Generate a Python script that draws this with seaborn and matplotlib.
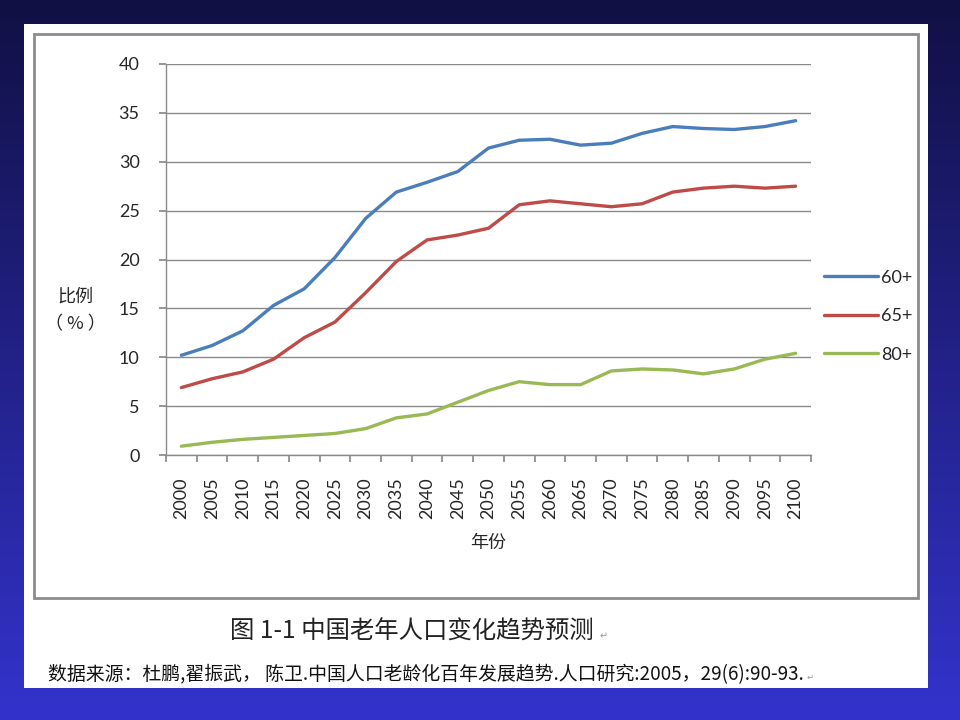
import numpy as np
import pandas as pd
import matplotlib
matplotlib.use("Agg")
import matplotlib.pyplot as plt
import matplotlib.colors as mcolors
from matplotlib.patches import Rectangle
import seaborn as sns

years = [str(y) for y in range(2000, 2101, 5)]
pct_60 = [10.2, 11.2, 12.7, 15.3, 17.0, 20.2, 24.2, 26.9, 27.9, 29.0, 31.4,
          32.2, 32.3, 31.7, 31.9, 32.9, 33.6, 33.4, 33.3, 33.6, 34.2]
pct_65 = [6.9, 7.8, 8.5, 9.8, 12.0, 13.6, 16.6, 19.8, 22.0, 22.5, 23.2,
          25.6, 26.0, 25.7, 25.4, 25.7, 26.9, 27.3, 27.5, 27.3, 27.5]
pct_80 = [0.9, 1.3, 1.6, 1.8, 2.0, 2.2, 2.7, 3.8, 4.2, 5.4, 6.6,
          7.5, 7.2, 7.2, 8.6, 8.8, 8.7, 8.3, 8.8, 9.8, 10.4]
series = ["60+", "65+", "80+"]
colors = ["#4a7ebb", "#be4b48", "#98b954"]

df = pd.DataFrame({"年份": years * 3,
                   "比例": pct_60 + pct_65 + pct_80,
                   "组": np.repeat(series, len(years))})

sns.set_theme(style="white")
plt.rcParams["font.family"] = ["Lato", "Noto Sans CJK SC", "DejaVu Sans"]
cjk = ["Noto Sans CJK SC", "DejaVu Sans"]

fig = plt.figure(figsize=(9.6, 7.2), dpi=100)

# slide background gradient
bg = fig.add_axes([0, 0, 1, 1], zorder=-10)
cmap = mcolors.LinearSegmentedColormap.from_list("bg", ["#111044", "#3333cc"])
bg.imshow(np.linspace(0, 1, 256).reshape(-1, 1), aspect="auto", cmap=cmap,
          extent=[0, 960, 720, 0])
bg.add_patch(Rectangle((24, 24), 904, 664, facecolor="white", edgecolor="none"))
bg.add_patch(Rectangle((34, 34), 884, 564, facecolor="white",
                       edgecolor="#8c8c8c", linewidth=2.0))
bg.set_xlim(0, 960)
bg.set_ylim(720, 0)
bg.axis("off")

ax = fig.add_axes([166 / 960, 265 / 720, 645 / 960, 391 / 720])
sns.lineplot(data=df, x="年份", y="比例", hue="组", palette=colors,
             linewidth=2.4, ax=ax, sort=False)

ax.set_xlim(-0.5, len(years) - 0.5)
ax.set_ylim(0, 40)
ax.set_yticks(range(0, 41, 5))
ax.yaxis.grid(True, color="#8a8a8a", linewidth=1)
ax.set_axisbelow(True)
for s in ["top", "right"]:
    ax.spines[s].set_visible(False)
for s in ["left", "bottom"]:
    ax.spines[s].set_color("#8a8a8a")
    ax.spines[s].set_linewidth(1)

ax.set_xticks(np.arange(-0.5, len(years)), labels=[])
ax.set_xticks(range(len(years)), labels=years, minor=True)
ax.tick_params(axis="x", which="major", length=5, color="#8a8a8a",
               direction="out", bottom=True)
ax.tick_params(axis="x", which="minor", length=0, pad=16, labelsize=13,
               rotation=90, bottom=True)
ax.tick_params(axis="y", length=5, color="#8a8a8a", direction="out",
               left=True, pad=14, labelsize=13)

ax.set_xlabel("")
ax.set_ylabel("")
ax.text(-0.14, 0.37, "比例\n（ % ）", transform=ax.transAxes, ha="center",
        va="center", fontsize=13, family=cjk, linespacing=1.75)
ax.text(0.5, -0.226, "年份", transform=ax.transAxes, ha="center",
        va="center", fontsize=13, family=cjk)

leg = ax.legend(loc="center left", bbox_to_anchor=(1.0, 0.355), frameon=False,
                fontsize=13, handlelength=3.0, handletextpad=0.2,
                labelspacing=1.25, borderaxespad=0.3)
for h in leg.get_lines():
    h.set_linewidth(2.4)

fig.text(230 / 960, 1 - 632 / 720, "图 1-1 中国老年人口变化趋势预测", ha="left",
         va="center", fontsize=17.6, family=cjk, color="#222222",
         fontweight="light")
fig.text(600 / 960, 1 - 636 / 720, "↵", ha="left", va="center", fontsize=7,
         family=["DejaVu Sans"], color="#999999")
fig.text(48 / 960, 1 - 675 / 720,
         "数据来源：杜鹏,翟振武， 陈卫.中国人口老龄化百年发展趋势.人口研究:2005，29(6):90-93.",
         ha="left", va="center", fontsize=13.6, family=cjk, color="#111111")
fig.text(807 / 960, 1 - 677 / 720, "↵", ha="left", va="center", fontsize=6,
         family=["DejaVu Sans"], color="#999999")

fig.savefig("out.png", dpi=100)
